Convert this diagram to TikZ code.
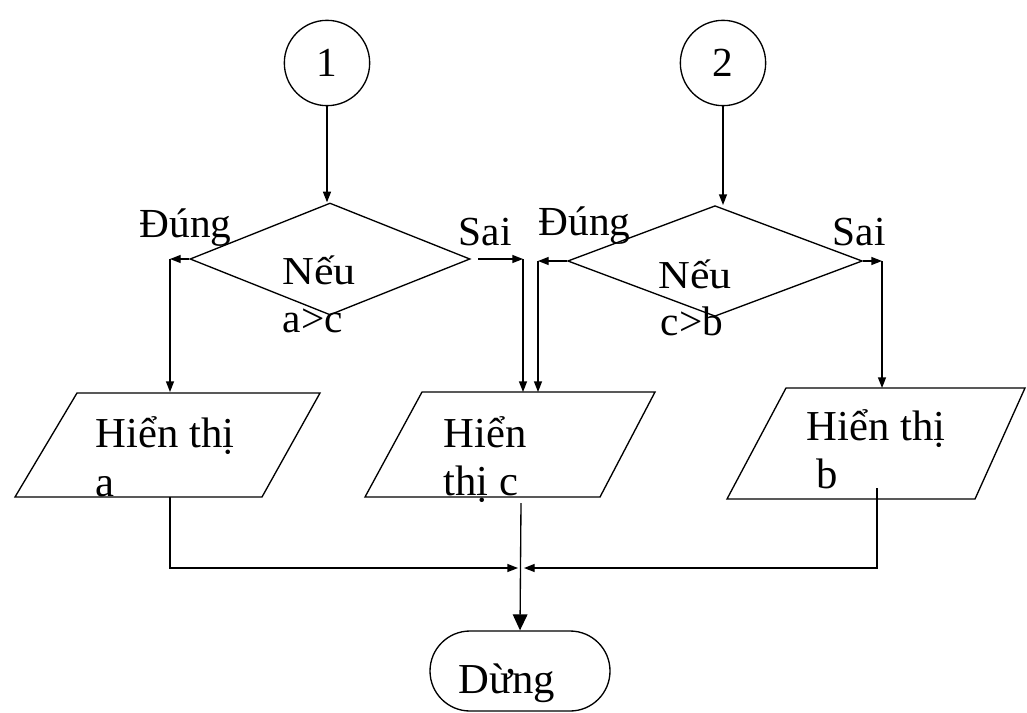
\documentclass[tikz,border=0pt]{standalone}
\usepackage{fontspec}
\setmainfont{Liberation Serif}
\usetikzlibrary{shapes.geometric,arrows.meta}
\begin{document}
\begin{tikzpicture}[x=0.75pt,y=-0.75pt,
  line width=1pt,
  arr/.style={-{Triangle[length=8pt,width=6pt]}},
  bigarr/.style={-{Triangle[length=12pt,width=11pt]}},
  conn/.style={draw,circle,inner sep=0pt,minimum size=64pt,font=\fontsize{31}{36}\selectfont},
  decide/.style={draw,diamond,inner sep=0pt},
  txt/.style={anchor=base west,inner sep=0pt,font=\fontsize{31}{37}\selectfont},
  ntxt/.style={anchor=base west,inner sep=0pt,font=\fontsize{33}{38}\selectfont},
  ptxt/.style={anchor=base west,inner sep=0pt,font=\fontsize{32}{38}\selectfont}
]
\useasboundingbox (0,0) rectangle (1027,713);

% connectors circles
\node[conn] (c1) at (327,63) {1};
\node[conn] (c2) at (723,63) {2};

% diamonds
\node[decide,minimum width=210pt,minimum height=84pt] (d1) at (330,259) {};
\node[decide,minimum width=221pt,minimum height=83pt] (d2) at (715,261) {};

% diamond texts
\node[ntxt] (t1) at (282,284) {\scalebox{1}[0.9]{Nếu}};
\node[txt] (t2) at (282,332) {a>c};
\node[ntxt] (t3) at (658,288) {\scalebox{1}[0.9]{Nếu}};
\node[txt] (t4) at (660,335) {c>b};

% branch labels
\node[txt] (l1) at (139,237) {Đúng};
\node[txt] (l2) at (458,245) {Sai};
\node[txt] (l3) at (538,235) {Đúng};
\node[txt] (l4) at (832,245) {Sai};

% parallelograms
\coordinate (p1a) at (77,393);  \coordinate (p1b) at (320,393);
\coordinate (p1c) at (262,497); \coordinate (p1d) at (15,497);
\draw (p1a) -- (p1b) -- (p1c) -- (p1d) -- cycle;
\coordinate (p2a) at (422,392); \coordinate (p2b) at (655,392);
\coordinate (p2c) at (600,497); \coordinate (p2d) at (365,497);
\draw (p2a) -- (p2b) -- (p2c) -- (p2d) -- cycle;
\coordinate (p3a) at (786,388); \coordinate (p3b) at (1025,388);
\coordinate (p3c) at (975,499); \coordinate (p3d) at (727,499);
\draw (p3a) -- (p3b) -- (p3c) -- (p3d) -- cycle;

\node[ptxt] (h1) at (95,447) {Hiển thị};
\node[ptxt] (h1b) at (95,496) {a};
\node[ptxt] (h2) at (443,447) {Hiển};
\node[ptxt] (h2b) at (443,495) {thị c};
\node[ptxt] (h3) at (806,440) {Hiển thị};
\node[ptxt] (h3b) at (816,488) {b};

% stop
\node[draw,rounded corners=30pt,minimum width=135pt,minimum height=60pt,inner sep=0pt] (stop) at (520,671) {};
\node[ptxt] (st) at (458,693) {Dừng};

% junction coordinates
\coordinate (j1) at (170,259);
\coordinate (e1) at (170,392);
\coordinate (s1) at (478,259);
\coordinate (j2) at (523,259);
\coordinate (e2) at (523,392);
\coordinate (j3) at (538,261);
\coordinate (e3) at (538,392);
\coordinate (j4) at (882,261);
\coordinate (e4) at (882,388);
\coordinate (b1) at (170,497);
\coordinate (k1) at (170,568);
\coordinate (m1) at (518,568);
\coordinate (b3) at (877,488);
\coordinate (k3) at (877,568);
\coordinate (m3) at (524,568);
\coordinate (b2) at (521,503);

% connectors
\draw[arr] (c1.south) -- (c1.south |- d1.north);
\draw[arr] (c2.south) -- (c2.south |- d2.north);
\draw[arr] (d1.west) -- (j1);
\draw[arr] (j1) -- (e1);
\draw[arr] (s1) -- (j2);
\draw[arr] (j2) -- (e2);
\draw[arr] (d2.west) -- (j3);
\draw[arr] (j3) -- (e3);
\draw[arr] (d2.east) -- (j4);
\draw[arr] (j4) -- (e4);
\draw[arr] (b1) -- (k1) -- (m1);
\draw[arr] (b3) -- (k3) -- (m3);
\draw[bigarr] (b2) -- (stop.north);
\end{tikzpicture}
\end{document}
